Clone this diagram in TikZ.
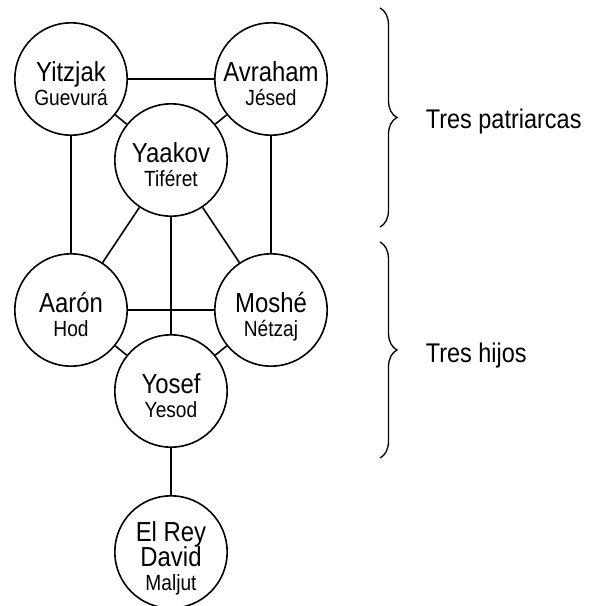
\documentclass[tikz,border=0pt]{standalone}
\usepackage{fontspec}
\setmainfont{Liberation Sans}[FakeStretch=0.87]
\usetikzlibrary{decorations.pathreplacing}

\begin{document}
\begin{tikzpicture}[x=1pt,y=-1pt,line width=1.6pt,
  sefira/.style={draw,circle,minimum size=112.4pt,inner sep=0pt},
  nombre/.style={anchor=base,inner sep=0pt,text depth=0pt,font=\fontsize{27.5}{30}\selectfont},
  atributo/.style={anchor=base,inner sep=0pt,font=\fontsize{22}{24}\selectfont},
  etiqueta/.style={anchor=base west,inner sep=0pt,font=\fontsize{27}{30}\selectfont},
  llave/.style={decorate,decoration={brace,amplitude=17pt},line width=1.3pt}]
\useasboundingbox (0,0) rectangle (590,606);
\newcommand\sefira[4]{
\node[sefira] (#1) at (#2) {};
\node[nombre] (#1-nombre) at ([yshift=-2pt]#1.center) {#3};
\node[atributo] (#1-atributo) at ([yshift=-26pt]#1.center) {#4};
}
\sefira{yitzjak}{71,79}{Yitzjak}{Guevurá}
\sefira{avraham}{271,79}{Avraham}{Jésed}
\sefira{yaakov}{171,160}{Yaakov}{Tiféret}
\sefira{aaron}{71,310}{Aarón}{Hod}
\sefira{moshe}{271,310}{Moshé}{Nétzaj}
\sefira{yosef}{171,391}{Yosef}{Yesod}
% el rey david, tres lineas
\node[sefira] (david) at (171,552) {};
\node[nombre] (david-rey) at ([yshift=11pt]david.center) {El Rey};
\node[nombre] (david-nombre) at ([yshift=-14pt]david.center) {David};
\node[atributo] (david-atributo) at ([yshift=-38pt]david.center) {Maljut};
\draw (yitzjak) -- (avraham);
\draw (yitzjak) -- (yaakov);
\draw (avraham) -- (yaakov);
\draw (yitzjak) -- (aaron);
\draw (avraham) -- (moshe);
\draw (yaakov) -- (aaron);
\draw (yaakov) -- (moshe);
\draw (yaakov) -- (yosef);
\draw (aaron) -- (moshe);
\draw (aaron) -- (yosef);
\draw (moshe) -- (yosef);
\draw (yosef) -- (david);
% llaves
\coordinate (llave1-a) at (380,8);
\coordinate (llave1-b) at (380,227);
\coordinate (llave2-a) at (380,242);
\coordinate (llave2-b) at (380,458);
\draw[llave] (llave1-a) -- (llave1-b);
\draw[llave] (llave2-a) -- (llave2-b);
\node[etiqueta] (patriarcas) at (425,128) {Tres patriarcas};
\node[etiqueta] (hijos) at (425,362) {Tres hijos};
\end{tikzpicture}
\end{document}
